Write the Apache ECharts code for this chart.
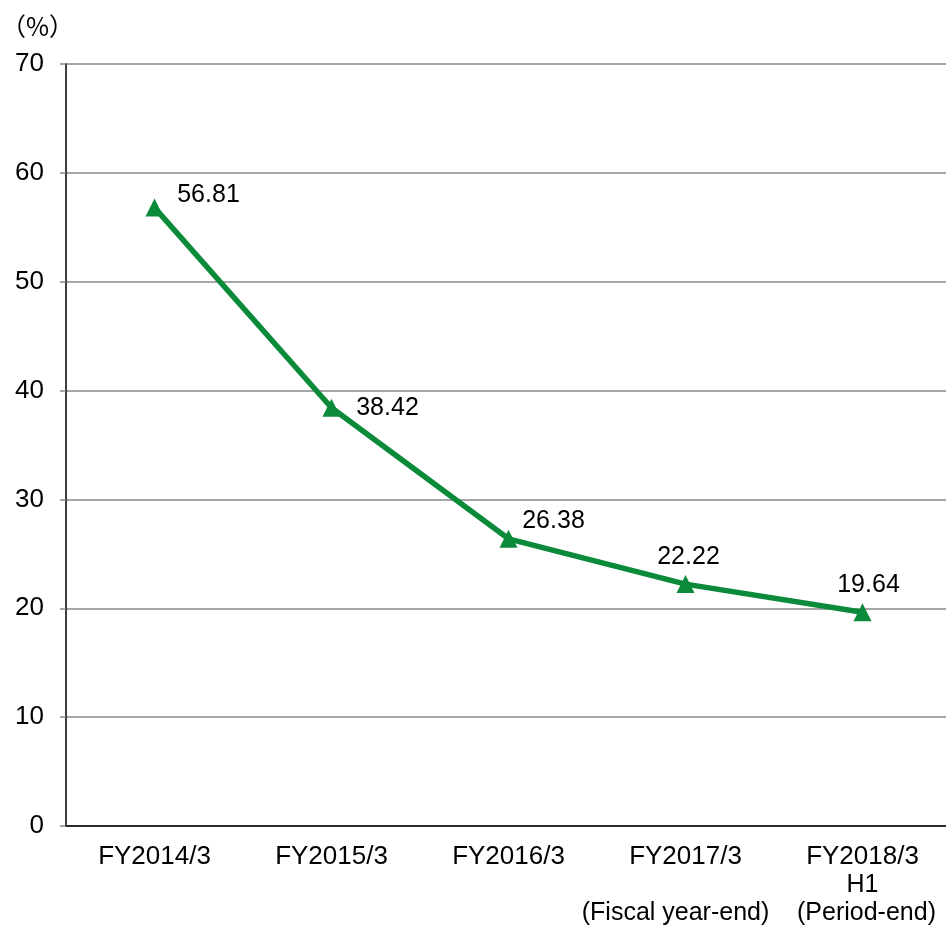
<!DOCTYPE html>
<html>
<head>
<meta charset="utf-8">
<script src="https://cdn.jsdelivr.net/npm/echarts@6/dist/echarts.min.js"></script>
<style>
  html, body { margin: 0; padding: 0; background: #fff; }
  #chart { width: 946px; height: 926px; }
</style>
</head>
<body>
<div id="chart"></div>
<script>
// Fiscal periods on the x axis (rich-text lines)
const categories = [
  '{fy|FY2014/3}',
  '{fy|FY2015/3}',
  '{fy|FY2016/3}',
  '{fy|FY2017/3}\n{sub| }\n{subL|(Fiscal year-end)}',
  '{fy|FY2018/3}\n{sub|H1}\n{subR|(Period-end)}'
];
// Ratio (%) for each period
const ratioValues = [56.81, 38.42, 26.38, 22.22, 19.64];
// Label placement for each point's value
const labelPositions = [
  [54, -12], [56, 0], [45, -18], [3, -27], [6, -27]
];

const green = '#0b8a3a';
const font = 'Liberation Sans, Arial, sans-serif';

const chart = echarts.init(document.getElementById('chart'), null, { renderer: 'canvas' });
chart.setOption({
  animation: false,
  backgroundColor: '#fff',
  graphic: [{
    type: 'text',
    left: 1,
    top: 14,
    style: { text: '（%）', font: '25px "Noto Sans CJK JP", sans-serif', fill: '#000' }
  }],
  grid: { left: 66, top: 64, width: 885, height: 762, outerBoundsMode: 'none' },
  xAxis: {
    type: 'category',
    data: categories,
    boundaryGap: true,
    axisLine: { show: true, lineStyle: { color: '#000', width: 1.5 } },
    axisTick: { show: false },
    axisLabel: {
      color: '#000', fontFamily: font, fontSize: 26, lineHeight: 28,
      margin: 17, interval: 0, align: 'center',
      rich: {
        fy: { fontFamily: font, fontSize: 26, lineHeight: 28, color: '#000' },
        sub: { fontFamily: font, fontSize: 25, lineHeight: 28, color: '#000' },
        subL: { fontFamily: font, fontSize: 25, lineHeight: 28, color: '#000', padding: [0, 20, 0, 0] },
        subR: { fontFamily: font, fontSize: 25, lineHeight: 28, color: '#000', padding: [0, 0, 0, 8] }
      }
    },
    splitLine: { show: false }
  },
  yAxis: {
    type: 'value',
    min: 0, max: 70, interval: 10,
    axisLine: { show: true, lineStyle: { color: '#000', width: 1.5 } },
    axisTick: { show: true, length: 6, lineStyle: { color: '#888', width: 1.5 } },
    axisLabel: { color: '#000', fontFamily: font, fontSize: 26, margin: 22 },
    splitLine: { show: true, lineStyle: { color: '#888', width: 1.5 } }
  },
  series: [{
    type: 'line',
    data: ratioValues.map((v, i) => ({
      value: v,
      label: { offset: labelPositions[i] }
    })),
    lineStyle: { color: green, width: 5.5 },
    itemStyle: { color: green },
    symbol: 'triangle',
    symbolSize: 18,
    z: 5,
    label: {
      show: true,
      position: 'inside',
      color: '#000',
      fontFamily: font,
      fontSize: 25,
      formatter: p => p.value.toFixed(2)
    }
  }]
});
</script>
</body>
</html>
